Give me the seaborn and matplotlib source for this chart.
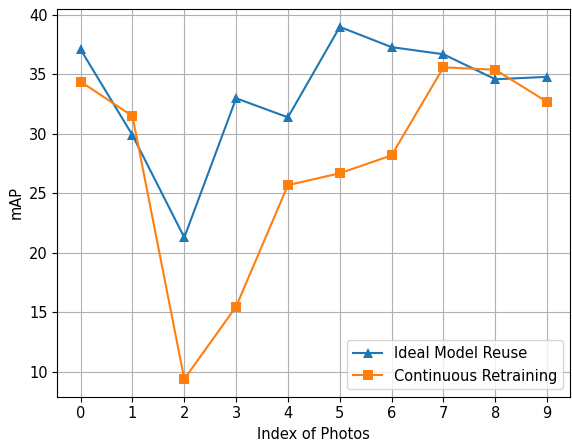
import matplotlib
matplotlib.use("Agg")
import matplotlib.pyplot as plt
import seaborn as sns
import pandas as pd

photos = list(range(10))
ideal_reuse = [37.1, 29.9, 21.3, 33.0, 31.4, 39.0, 37.3, 36.7, 34.6, 34.8]
continuous_retraining = [34.4, 31.5, 9.4, 15.5, 25.7, 26.7, 28.2, 35.6, 35.4, 32.7]
labels = ["Ideal Model Reuse", "Continuous Retraining"]

plt.rcParams["font.size"] = 10.5

fig = plt.figure(figsize=(5.72, 4.42), dpi=100)
ax = fig.add_axes([0.1002, 0.1025, 0.897, 0.8765])

sns.lineplot(x=photos, y=ideal_reuse, marker="^", markersize=7.5, markeredgewidth=0,
             color="#1f77b4", label=labels[0], ax=ax)
sns.lineplot(x=photos, y=continuous_retraining, marker="s", markersize=7.5, markeredgewidth=0,
             color="#ff7f0e", label=labels[1], ax=ax)

ax.set_xticks(photos)
ax.set_xlabel("Index of Photos")
ax.set_ylabel("mAP")
ax.grid(True, color="#b0b0b0", linewidth=0.8)
ax.set_axisbelow(True)
ax.legend(loc="lower right")

fig.savefig("out.png", dpi=100)
